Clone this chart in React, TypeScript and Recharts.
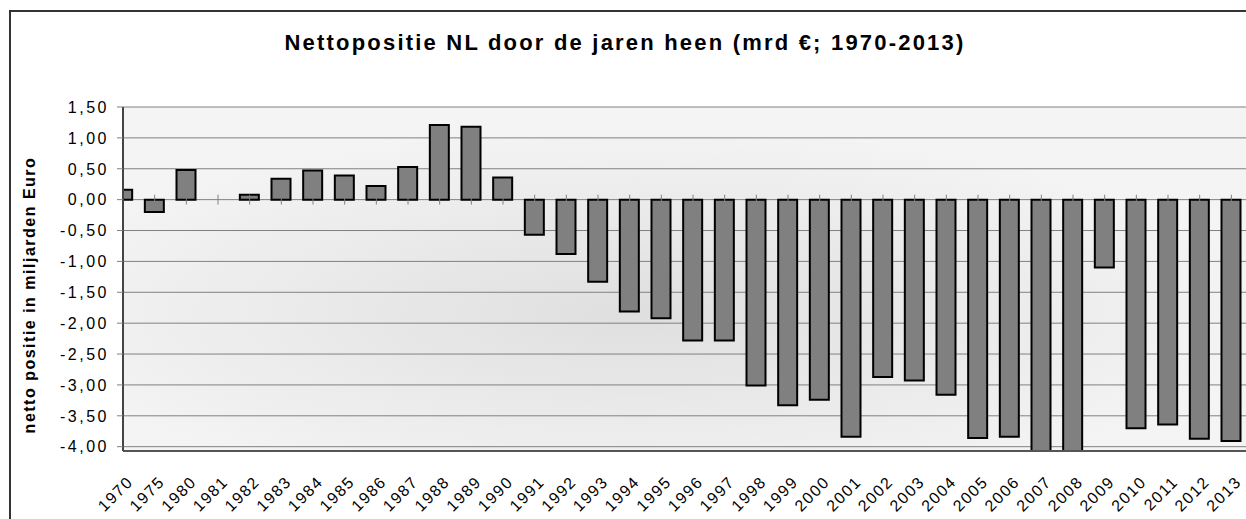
import React from 'react';
import { BarChart, Bar, XAxis, YAxis, CartesianGrid, ReferenceLine } from 'recharts';

const years = [
  '1970', '1975', '1980', '1981', '1982', '1983', '1984', '1985', '1986', '1987', '1988', '1989',
  '1990', '1991', '1992', '1993', '1994', '1995', '1996', '1997', '1998', '1999', '2000', '2001',
  '2002', '2003', '2004', '2005', '2006', '2007', '2008', '2009', '2010', '2011', '2012', '2013',
];

const netPosition = [
  0.16, -0.2, 0.48, 0, 0.08, 0.34, 0.47, 0.39, 0.22, 0.53, 1.21, 1.18,
  0.36, -0.57, -0.88, -1.33, -1.81, -1.92, -2.28, -2.28, -3.01, -3.33, -3.24, -3.84,
  -2.87, -2.93, -3.16, -3.86, -3.84, -4.07, -4.07, -1.1, -3.7, -3.64, -3.87, -3.91,
];

const yTicks = [1.5, 1, 0.5, 0, -0.5, -1, -1.5, -2, -2.5, -3, -3.5, -4];

const data = years.map((year, i) => ({ idx: i, year, value: netPosition[i] }));
const xTicks = years.map((_, i) => i);

const FONT = '"Liberation Sans", Arial, sans-serif';

const fmt = (v: number) => v.toFixed(2).replace('.', ',');

function YTick({ x, y, payload }: any) {
  return (
    <text x={x} y={y} dy="0.36em" textAnchor="end" fontSize={16} fill="#000" fontFamily={FONT} letterSpacing={2.5}>
      {fmt(payload.value)}
    </text>
  );
}

function XTick({ x, y, payload }: any) {
  return (
    <g transform={`translate(${x + 11},${y + 32})`}>
      <text textAnchor="end" transform="rotate(-45)" fontSize={16} fill="#000" fontFamily={FONT} letterSpacing={1.5}>
        {years[payload.value]}
      </text>
    </g>
  );
}

export default function App() {
  return (
    <div style={{ position: 'absolute', left: 0, top: 0, width: 1246, height: 519, overflow: 'hidden', background: '#fff' }}>
      <div
        style={{
          position: 'absolute', left: 9, top: 10, width: 1400, height: 600,
          border: '2px solid #333', boxSizing: 'border-box',
        }}
      />
      <div style={{ position: 'absolute', left: 0, top: 0 }}>
        <BarChart width={1300} height={519} data={data} margin={{ top: 107, right: 37, bottom: 8, left: 63 }}>
          <defs>
            <radialGradient id="plotBg" cx="0.45" cy="0.6" r="0.55">
              <stop offset="0%" stopColor="#dfdfdf" />
              <stop offset="100%" stopColor="#f4f4f4" />
            </radialGradient>
          </defs>
          <CartesianGrid vertical={false} stroke="#808080" strokeWidth={1} fill="url(#plotBg)" fillOpacity={1} />
          <XAxis
            dataKey="idx"
            type="number"
            domain={[0, 36]}
            allowDataOverflow
            ticks={xTicks}
            interval={0}
            height={60}
            tickSize={0}
            tickMargin={0}
            tickLine={false}
            axisLine={{ stroke: '#555', strokeWidth: 2 }}
            tick={<XTick />}
          />
          <YAxis
            type="number"
            domain={[-4, 1.5]}
            ticks={yTicks}
            interval={0}
            width={60}
            tickSize={6}
            tickMargin={8}
            tickLine={{ stroke: '#808080' }}
            axisLine={{ stroke: '#444', strokeWidth: 2 }}
            tick={<YTick />}
          />
          <Bar dataKey="value" fill="#808080" stroke="#000" strokeWidth={2} barSize={19} isAnimationActive={false} />
          {xTicks.map((i) => (
            <ReferenceLine
              key={i}
              segment={[{ x: i, y: 0.08 }, { x: i, y: -0.08 }]}
              stroke="#808080"
              strokeWidth={1}
            />
          ))}
        </BarChart>
      </div>
      <svg width={1246} height={519} style={{ position: 'absolute', left: 0, top: 0, pointerEvents: 'none' }}>
        <text x={625} y={50} textAnchor="middle" fontSize={22} fontWeight="bold" fill="#000" fontFamily={FONT} letterSpacing={2.2}>
          Nettopositie NL door de jaren heen (mrd €; 1970-2013)
        </text>
        <text
          transform="translate(35,295) rotate(-90)"
          textAnchor="middle"
          fontSize={16}
          fontWeight="bold"
          fill="#000"
          fontFamily={FONT}
          letterSpacing={1.5}
        >
          netto positie in miljarden Euro
        </text>
      </svg>
    </div>
  );
}
